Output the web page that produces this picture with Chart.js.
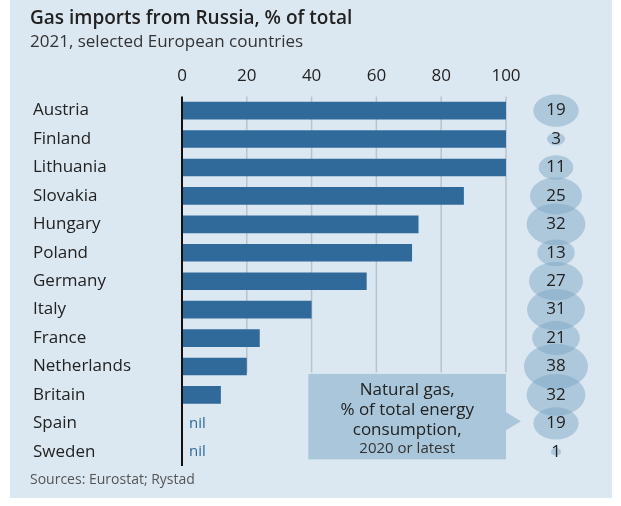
<!DOCTYPE html>
<html><head><meta charset="utf-8">
<script src="https://cdn.jsdelivr.net/npm/chart.js@4/dist/chart.umd.min.js"></script>
<style>
body{margin:0;background:#fff;font-family:"Open Sans",sans-serif;}
#wrap{position:relative;width:621px;height:506px;}
#panel{position:absolute;left:10px;top:0;width:602px;height:498px;background:#dce8f1;}
canvas{position:absolute;left:0;top:0;}
.t{position:absolute;left:30px;color:#222;white-space:nowrap;}
</style></head><body>
<div id="wrap"><div id="panel"></div>
<canvas id="c" width="621" height="506"></canvas>
<div class="t" style="top:4px;font-size:19px;font-weight:600;">Gas imports from Russia, % of total</div>
<div class="t" style="top:29px;font-size:17px;color:#333;">2021, selected European countries</div>
<div class="t" style="top:469px;font-size:14px;color:#555;">Sources: Eurostat; Rystad</div>
</div>
<script>
const countries=["Austria","Finland","Lithuania","Slovakia","Hungary","Poland","Germany","Italy","France","Netherlands","Britain","Spain","Sweden"];
const importShare=[100,100,100,87,73,71,57,40,24,20,12,0,0];
const gasShare=[19,3,11,25,32,13,27,31,21,38,32,19,1];
const xTicks=[0,20,40,60,80,100];

const deco={id:'deco',
 beforeDatasetsDraw(ch){const c=ch.ctx,x=ch.scales.x,y=ch.scales.y;
  c.save();c.strokeStyle='#b9c3cb';c.lineWidth=1.5;
  const yb=y.getPixelForValue(9)+6;
  xTicks.slice(1).forEach(v=>{const px=x.getPixelForValue(v);c.beginPath();c.moveTo(px,ch.chartArea.top);c.lineTo(px,yb);c.stroke();});
  c.restore();},
 afterDatasetsDraw(ch){const c=ch.ctx,x=ch.scales.x,y=ch.scales.y;c.save();
  const x0=x.getPixelForValue(0);
  c.strokeStyle='#111';c.lineWidth=2;c.beginPath();c.moveTo(x0,ch.chartArea.top);c.lineTo(x0,ch.chartArea.bottom);c.stroke();
  c.font='15px "Open Sans"';c.fillStyle='#2e6a9c';c.textBaseline='middle';
  importShare.forEach((v,i)=>{if(v===0)c.fillText('nil',x0+7,y.getPixelForValue(i));});
  const bx=556;
  gasShare.forEach((v,i)=>{const py=y.getPixelForValue(i);c.fillStyle='rgba(125,168,198,0.5)';
   c.beginPath();c.ellipse(bx,py,5.2*Math.sqrt(v),3.7*Math.sqrt(v),0,0,Math.PI*2);c.fill();});
  c.fillStyle='#222';c.font='17px "Open Sans"';c.textAlign='center';
  gasShare.forEach((v,i)=>c.fillText(String(v),bx,y.getPixelForValue(i)));
  const x1=x.getPixelForValue(39),x2=x.getPixelForValue(100);
  const ty=y.getPixelForValue(10)-21,by=y.getPixelForValue(11)+36,my=y.getPixelForValue(11)-2;
  c.fillStyle='#a9c6da';c.fillRect(x1,ty,x2-x1,by-ty);
  c.beginPath();c.moveTo(x2,my-9);c.lineTo(x2+15,my);c.lineTo(x2,my+9);c.fill();
  const cx=(x1+x2)/2;c.fillStyle='#222';c.font='500 17px "Open Sans"';
  c.fillText('Natural gas,',cx,ty+16);c.fillText('% of total energy',cx,ty+36);c.fillText('consumption,',cx,ty+56);
  c.font='15px "Open Sans"';c.fillStyle='#333';c.fillText('2020 or latest',cx,ty+75);
  c.restore();}};

new Chart(document.getElementById('c'),{type:'bar',
 data:{labels:countries,datasets:[{data:importShare,backgroundColor:'#2f6a9b',barPercentage:0.62,categoryPercentage:1}]},
 options:{indexAxis:'y',responsive:false,animation:false,
  layout:{padding:{left:33,right:115,top:64,bottom:40}},
  plugins:{legend:{display:false},tooltip:{enabled:false}},
  scales:{
   x:{position:'top',min:0,max:100,afterBuildTicks(s){s.ticks=xTicks.map(v=>({value:v}));},
      grid:{display:false},border:{display:false},
      ticks:{color:'#222',font:{size:17,family:'Open Sans'},padding:2}},
   y:{grid:{display:false},border:{display:false},afterFit(s){s.width=149;},
      ticks:{crossAlign:'far',color:'#222',font:{size:17,family:'Open Sans'}}}}},
 plugins:[deco]});
</script></body></html>
